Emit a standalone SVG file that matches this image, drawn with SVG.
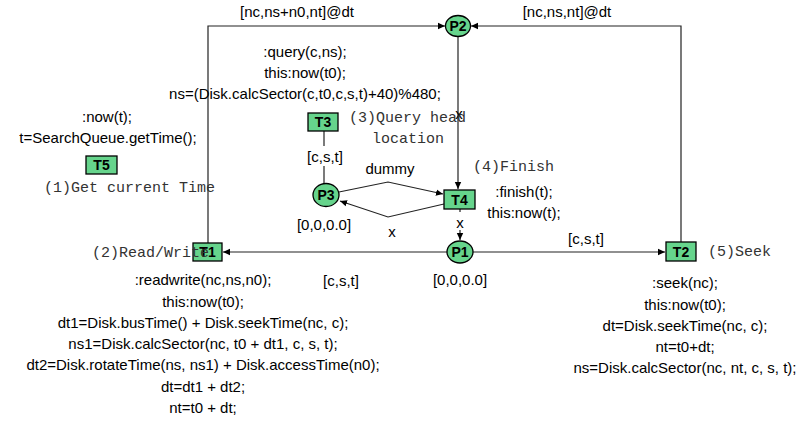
<svg xmlns="http://www.w3.org/2000/svg" width="808" height="421" viewBox="0 0 808 421">
<style>
.t{font-family:"Liberation Sans",Arial,sans-serif;font-size:15px;fill:#000}
.c{text-anchor:middle}
.m{font-family:"Liberation Mono","Courier New",monospace;font-size:15px;fill:#333}
.nl{font-family:"Liberation Sans",Arial,sans-serif;font-size:14px;font-weight:bold;fill:#000;text-anchor:middle}
.box{fill:#66d48c;stroke:#000;stroke-width:1.3}
.ln{fill:none;stroke:#222;stroke-width:1.2}
</style>
<defs>
<marker id="ah" markerWidth="8" markerHeight="8" refX="7" refY="4" orient="auto" markerUnits="userSpaceOnUse">
<path d="M0,0.8 L7,4 L0,7.2 z" fill="#000"/>
</marker>
</defs>
<rect width="808" height="421" fill="#fff"/>
<g id="connectors">
<path class="ln" d="M208,243 V26 H445" marker-end="url(#ah)"/>
<path class="ln" d="M681,242 V26 H471" marker-end="url(#ah)"/>
<path class="ln" d="M458,37 V189" marker-end="url(#ah)"/>
<path class="ln" d="M460,209 V240" stroke-dasharray="3,4" marker-end="url(#ah)"/>
<path class="ln" d="M447,252 H223" marker-end="url(#ah)"/>
<path class="ln" d="M473,252 H665" marker-end="url(#ah)"/>
<path class="ln" d="M324,131 V184"/>
<path class="ln" d="M339,192 L388,182 L443,194" marker-end="url(#ah)"/>
<path class="ln" d="M444,204 L388,217 L340,201" marker-end="url(#ah)"/>
<rect x="303" y="146" width="44" height="20" fill="#fff"/>
<rect x="453" y="216" width="14" height="14" fill="#fff"/>
<text class="t c" x="297" y="17">[nc,ns+n0,nt]@dt</text>
<text class="t c" x="567" y="17">[nc,ns,nt]@dt</text>
<text class="t c" x="459" y="119">x</text>
<text class="t c" x="325" y="162">[c,s,t]</text>
<text class="t c" x="390" y="174">dummy</text>
<text class="t c" x="392" y="237">x</text>
<text class="t c" x="460" y="228">x</text>
<text class="t c" x="341" y="286">[c,s,t]</text>
<text class="t c" x="586" y="244">[c,s,t]</text>
</g>
<g id="P2">
<ellipse class="box" cx="458" cy="26" rx="12.5" ry="10.5"/>
<text class="nl" x="458" y="31">P2</text>
</g>
<g id="T3">
<rect class="box" x="308" y="113" width="30" height="18"/>
<text class="nl" x="323" y="127">T3</text>
</g>
<g id="P3">
<ellipse class="box" cx="326" cy="195" rx="13" ry="11.5"/>
<text class="nl" x="326" y="200">P3</text>
<text class="t c" x="324" y="230">[0,0,0.0]</text>
</g>
<g id="T4">
<rect class="box" x="444" y="190" width="31" height="19"/>
<text class="nl" x="459.5" y="205">T4</text>
</g>
<g id="P1">
<ellipse class="box" cx="460" cy="252" rx="13" ry="11"/>
<text class="nl" x="460" y="257">P1</text>
<text class="t c" x="460" y="285">[0,0,0.0]</text>
</g>
<g id="T5">
<rect class="box" x="86" y="156" width="31" height="18"/>
<text class="nl" x="101.5" y="170">T5</text>
</g>
<g id="T1">
<rect class="box" x="193" y="243" width="29" height="18"/>
<text class="nl" x="207.5" y="257">T1</text>
</g>
<g id="T2">
<rect class="box" x="666" y="242" width="30" height="19"/>
<text class="nl" x="681" y="257">T2</text>
</g>
<g id="annotations">
<text class="t c" x="305" y="57">:query(c,ns);</text>
<text class="t c" x="305" y="78">this:now(t0);</text>
<text class="t c" x="305" y="99">ns=(Disk.calcSector(c,t0,c,s,t)+40)%480;</text>
<text class="m" x="349" y="122">(3)Query head</text>
<text class="m c" x="408" y="143">location</text>
<text class="t c" x="107" y="122">:now(t);</text>
<text class="t c" x="108" y="143">t=SearchQueue.getTime();</text>
<text class="m" x="44" y="192">(1)Get current Time</text>
<text class="m" x="473" y="171">(4)Finish</text>
<text class="t c" x="524" y="197">:finish(t);</text>
<text class="t c" x="524" y="218">this:now(t);</text>
<text class="m" x="92" y="257">(2)Read/Write</text>
<text class="m" x="708" y="256">(5)Seek</text>
<text class="t c" x="203" y="285">:readwrite(nc,ns,n0);</text>
<text class="t c" x="203" y="307">this:now(t0);</text>
<text class="t c" x="203" y="328">dt1=Disk.busTime() + Disk.seekTime(nc, c);</text>
<text class="t c" x="203" y="349">ns1=Disk.calcSector(nc, t0 + dt1, c, s, t);</text>
<text class="t c" x="203" y="370">dt2=Disk.rotateTime(ns, ns1) + Disk.accessTime(n0);</text>
<text class="t c" x="203" y="392">dt=dt1 + dt2;</text>
<text class="t c" x="203" y="413">nt=t0 + dt;</text>
<text class="t c" x="685" y="288">:seek(nc);</text>
<text class="t c" x="685" y="310">this:now(t0);</text>
<text class="t c" x="685" y="331">dt=Disk.seekTime(nc, c);</text>
<text class="t c" x="685" y="352">nt=t0+dt;</text>
<text class="t c" x="685" y="373">ns=Disk.calcSector(nc, nt, c, s, t);</text>
</g>
</svg>
